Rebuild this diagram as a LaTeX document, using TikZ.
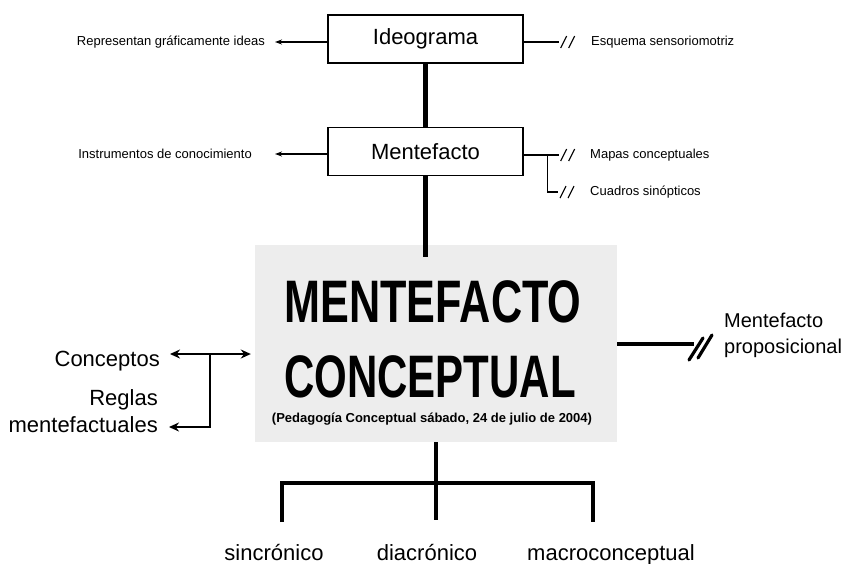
\documentclass[tikz,border=0pt]{standalone}
\usepackage{fontspec}
\setmainfont{Liberation Sans}
\usetikzlibrary{arrows.meta,calc}

\begin{document}
\begin{tikzpicture}[x=1pt,y=-1pt,
  box/.style={draw, line width=1.4pt, fill=white, minimum width=195pt,
    minimum height=48pt, inner sep=0pt, font=\fontsize{22}{26}\selectfont},
  note/.style={inner sep=0pt, font=\fontsize{13}{15}\selectfont},
  lbl/.style={inner sep=0pt, font=\fontsize{22}{27}\selectfont},
  title/.style={inner sep=0pt, font=\fontsize{60}{60}\selectfont\bfseries},
  thinlink/.style={line width=1.1pt},
  smallarrow/.style={line width=1.8pt, -{Stealth[length=7pt,width=5pt]}},
  trunk/.style={line width=4.6pt, line join=miter, line cap=butt},
  midlink/.style={line width=2.8pt, line join=miter}
]
\useasboundingbox (0,0) rectangle (851,563);

% shaded central panel
\node[fill=black!7, minimum width=362pt, minimum height=197pt, inner sep=0pt]
  (cen) at (436,343.5) {};
\node[title, anchor=base] (t1) at (433,322) {\scalebox{0.72}[1]{MENTEFACTO}};
\node[title, anchor=base] (t2) at (430,397) {\scalebox{0.70}[1]{CONCEPTUAL}};
\node[inner sep=0pt, anchor=base, font=\fontsize{13}{15}\selectfont\bfseries]
  (cap) at (432,422) {(Pedagogía Conceptual sábado, 24 de julio de 2004)};

% upper boxes
\node[box] (ideo) at (425.5,39) {Ideograma};
\node[box] (mf) at (425.5,151.5) {Mentefacto};

\draw[trunk] (ideo.south) -- (mf.north);
\draw[trunk, shorten >=-12pt] (mf.south) -- (mf.south |- cen.north);

% notes beside Ideograma
\node[note, anchor=east] (rep) at (265,42) {Representan gráficamente ideas};
\draw[smallarrow, shorten >=10pt] (ideo.west |- rep.east) -- (rep.east);
\node[note, anchor=west] (esq) at (591,42) {Esquema sensoriomotriz};
\draw[thinlink] (ideo.east |- esq.west) -- ++(35,0) coordinate (s1);
\draw[thinlink] (s1) ++(2,6) -- ++(6,-12) (s1) ++(10,6) -- ++(6,-12);

% notes beside Mentefacto
\node[note, anchor=east] (ins) at (252,154) {Instrumentos de conocimiento};
\draw[smallarrow, shorten >=23pt] (mf.west |- ins.east) -- (ins.east);
\node[note, anchor=west] (map) at (590,155) {Mapas conceptuales};
\node[note, anchor=west] (cua) at (590,192) {Cuadros sinópticos};
\draw[thinlink] (mf.east |- map.west) -- ++(35,0) coordinate (s2);
\draw[thinlink] (mf.east |- map.west) ++(24,0) |- ($(cua.west)+(-32,0)$) coordinate (s3);
\draw[thinlink] (s2) ++(2,6) -- ++(6,-12) (s2) ++(10,6) -- ++(6,-12);
\draw[thinlink] (s3) ++(2,6) -- ++(6,-12) (s3) ++(10,6) -- ++(6,-12);

% left branch
\node[lbl, anchor=base east] (con) at (160,366) {Conceptos};
\node[lbl, anchor=base east, align=right] (reg) at (158,432) {Reglas\\mentefactuales};
\draw[midlink, {Stealth[length=10pt,width=9pt]}-{Stealth[length=10pt,width=9pt]},
  shorten <=10pt, shorten >=4pt] (con.east |- 0,354) -- (cen.west |- 0,354);
\coordinate (jt) at (210,354);
\draw[midlink, -{Stealth[length=10pt,width=9pt]}, shorten >=11pt]
  (jt) |- (reg.east |- 0,427);

% right branch
\node[inner sep=0pt, font=\fontsize{20}{26}\selectfont, anchor=base west, align=left]
  (prop) at (724,353) {Mentefacto\\proposicional};
\draw[line width=4pt, shorten >=30pt] (cen.east |- 0,344) -- (prop.west |- 0,344);
\draw[line width=3.2pt, line cap=round] (689,360) -- (703,338) (698,358) -- (712,335);

% lower fork
\node[lbl, anchor=base] (sin) at (274,560) {sincrónico};
\node[lbl, anchor=base] (dia) at (427,560) {diacrónico};
\node[lbl, anchor=base] (mac) at (611,560) {macroconceptual};
\coordinate (f1) at (282,522);
\coordinate (fk) at (436,483);
\coordinate (f3) at (593,522);
\draw[trunk] (cen.south) -- ++(0,78);
\draw[trunk] (f1) |- (fk) -| (f3);
\end{tikzpicture}
\end{document}
